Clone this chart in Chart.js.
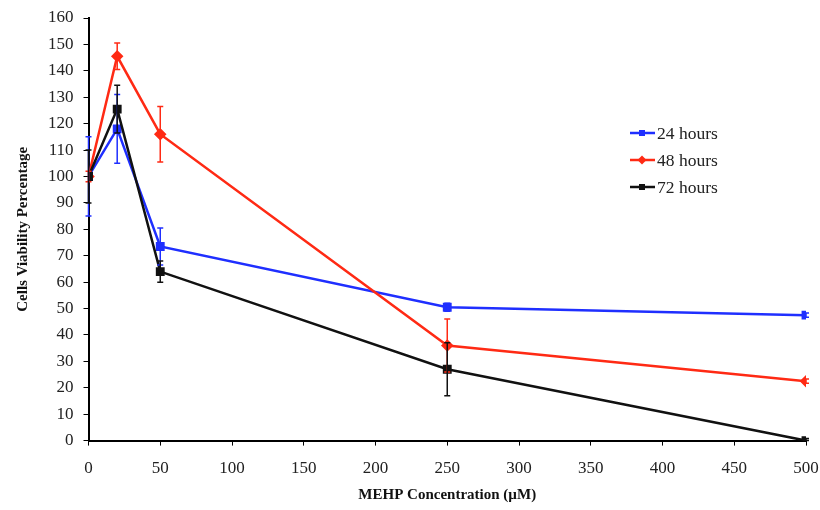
<!DOCTYPE html>
<html>
<head>
<meta charset="utf-8">
<script src="https://cdn.jsdelivr.net/npm/chart.js@4.4.0/dist/chart.umd.min.js"></script>
<style>
  body { margin: 0; background: #fff; }
  #wrap { width: 820px; height: 510px; }
</style>
</head>
<body>
<div id="wrap"><canvas id="myChart" width="820" height="510"></canvas></div>
<script>
// concentrations (µM)
const doses = [0, 20, 50, 250, 500];

// viability % per time point
const h24 = [100, 118, 73.5, 50.5, 47.5];
const h48 = [100, 145.5, 116, 36, 22.5];
const h72 = [100, 125.5, 64, 27, 0];

// error bar half-widths
const h24Err = [15, 13, 7, 1.5, 0.8];
const h48Err = [2, 5, 10.5, 10, 0.8];
const h72Err = [10, 9, 4, 10, 0.8];

const seriesNames = ['24 hours', '48 hours', '72 hours'];
const seriesColors = ['#1f2fff', '#ff2a14', '#111111'];

function toPoints(values) {
    return doses.map(function (d, i) { return { x: d, y: values[i] }; });
}

/**
 * Draw vertical error bars with caps
 */
const errorBars = {
    id: 'errorBars',
    afterDatasetsDraw(chart) {
        let ctx = chart.ctx;
        let yScale = chart.scales.y;
        let xScale = chart.scales.x;
        chart.data.datasets.forEach(function (ds) {
            ctx.save();
            ctx.strokeStyle = ds.borderColor;
            ctx.lineWidth = 1.5;
            ds.data.forEach(function (p, i) {
                let e = ds.errors[i];
                let x = xScale.getPixelForValue(p.x);
                let yt = yScale.getPixelForValue(p.y + e);
                let yb = yScale.getPixelForValue(Math.max(0, p.y - e));
                ctx.beginPath();
                ctx.moveTo(x, yt); ctx.lineTo(x, yb);
                ctx.moveTo(x - 3, yt); ctx.lineTo(x + 3, yt);
                ctx.moveTo(x - 3, yb); ctx.lineTo(x + 3, yb);
                ctx.stroke();
            });
            ctx.restore();
        });
    }
};

/**
 * Legend drawn inside the plot area
 */
const innerLegend = {
    id: 'innerLegend',
    afterDraw(chart) {
        let ctx = chart.ctx;
        ctx.save();
        ctx.font = '17.5px "Liberation Serif"';
        ctx.textBaseline = 'middle';
        chart.data.datasets.forEach(function (ds, i) {
            let y = 133 + i * 27;
            let x0 = 630;
            ctx.strokeStyle = ds.borderColor;
            ctx.fillStyle = ds.borderColor;
            ctx.lineWidth = 2.5;
            ctx.beginPath();
            ctx.moveTo(x0, y); ctx.lineTo(x0 + 25, y);
            ctx.stroke();
            if (ds.pointStyle === 'rectRot') {
                ctx.beginPath();
                ctx.moveTo(x0 + 12, y - 4.5); ctx.lineTo(x0 + 16.5, y);
                ctx.lineTo(x0 + 12, y + 4.5); ctx.lineTo(x0 + 7.5, y);
                ctx.fill();
            } else {
                ctx.fillRect(x0 + 9, y - 3, 6, 6);
            }
            ctx.fillStyle = '#222';
            ctx.fillText(ds.label, x0 + 27, y + 1);
        });
        ctx.restore();
    }
};

let datasets = [h24, h48, h72].map(function (vals, i) {
    return {
        label: seriesNames[i],
        data: toPoints(vals),
        errors: [h24Err, h48Err, h72Err][i],
        borderColor: seriesColors[i],
        backgroundColor: seriesColors[i],
        borderWidth: 2.5,
        pointStyle: i === 1 ? 'rectRot' : 'rect',
        pointRadius: 4.5,
        showLine: true,
        tension: 0,
        order: 2 - i
    };
});

let axisFont = { family: '"Liberation Serif"', size: 17 };
let titleFont = { family: '"Liberation Serif"', size: 15, weight: 'bold' };

new Chart(document.getElementById('myChart').getContext('2d'), {
    type: 'scatter',
    data: { datasets: datasets },
    options: {
        responsive: false,
        animation: false,
        layout: { padding: { left: 10, right: 0, top: 0, bottom: 2 } },
        plugins: { legend: { display: false }, tooltip: { enabled: false } },
        scales: {
            x: {
                type: 'linear', min: 0, max: 500,
                afterFit: function (scale) { scale.paddingRight = 14; },
                ticks: { stepSize: 50, color: '#222', font: axisFont, padding: 13 },
                grid: { drawOnChartArea: false, drawTicks: true, tickLength: 5, color: '#000' },
                border: { color: '#000', width: 2 },
                title: { display: true, text: 'MEHP Concentration (µM)', color: '#111', font: titleFont, padding: { top: -6, bottom: 4 } }
            },
            y: {
                min: 0, max: 160,
                afterFit: function (scale) { scale.paddingTop = 18; },
                ticks: { stepSize: 10, color: '#222', font: axisFont, padding: 10 },
                grid: { drawOnChartArea: false, drawTicks: true, tickLength: 5, color: '#000' },
                border: { color: '#000', width: 2 },
                title: { display: true, text: 'Cells Viability Percentage', color: '#111', font: titleFont, padding: { top: 4, bottom: 6 } }
            }
        }
    },
    plugins: [errorBars, innerLegend]
});
</script>
</body>
</html>
